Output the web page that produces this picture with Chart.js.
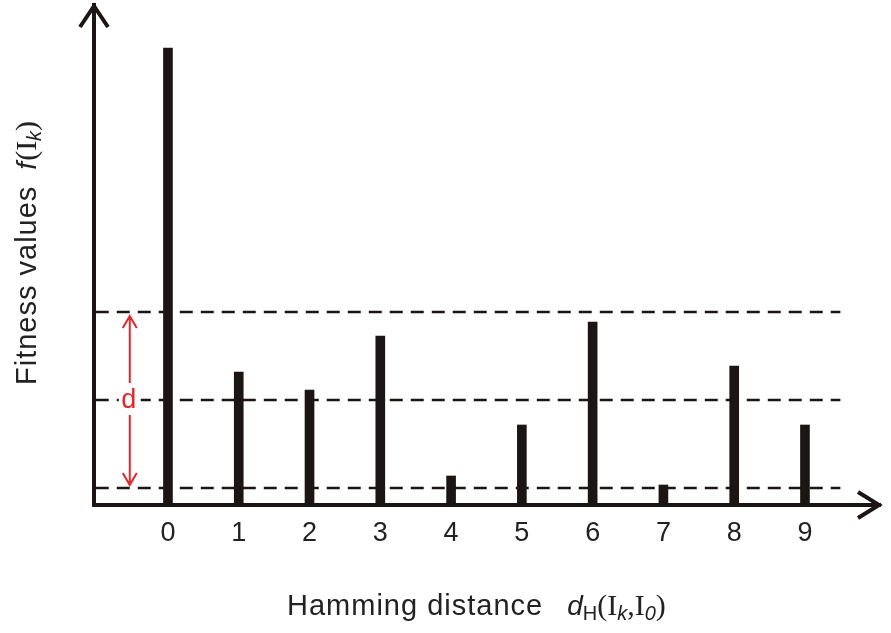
<!DOCTYPE html>
<html>
<head>
<meta charset="utf-8">
<script src="https://cdn.jsdelivr.net/npm/chart.js@4/dist/chart.umd.min.js"></script>
<style>
  html, body { margin: 0; padding: 0; background: #fff; }
  #wrap { width: 891px; height: 633px; }
</style>
</head>
<body>
<div id="wrap"><canvas id="fitChart" width="891" height="633"></canvas></div>
<script>
// Hamming distance of each candidate from I0
const distances = [0, 1, 2, 3, 4, 5, 6, 7, 8, 9];
// fitness values f(Ik)
const fitness = [45.7, 13.3, 11.5, 16.9, 2.9, 8.0, 18.3, 2.0, 13.9, 8.0];
// dashed threshold levels (spacing d)
const thresholds = [1.7, 10.5, 19.3];
const thresholdSpan = [-1.02, 9.5];
// x position of the red "d" arrow
const dArrowX = -0.54;

const INK = '#1b1613';
const RED = '#e3262c';
const sans = '"Liberation Sans", Arial, sans-serif';
const serif = '"Liberation Serif", "Times New Roman", serif';

// draws a run of text pieces with mixed fonts, starting at (x, y)
function drawRich(ctx, parts, x, y) {
  ctx.textAlign = 'left';
  ctx.textBaseline = 'alphabetic';
  parts.forEach(p => {
    ctx.font = p.font;
    ctx.letterSpacing = p.spacing || '0px';
    ctx.fillText(p.text, x, y + (p.dy || 0));
    x += ctx.measureText(p.text).width + (p.gap || 0);
  });
  ctx.letterSpacing = '0px';
}

const decor = {
  id: 'decor',
  afterDraw(chart) {
    const { ctx, chartArea: a, scales: { x, y } } = chart;
    ctx.save();
    ctx.strokeStyle = INK;
    ctx.fillStyle = INK;
    ctx.lineWidth = 4;
    ctx.lineJoin = 'miter';
    ctx.lineCap = 'butt';
    // axis arrow heads
    ctx.beginPath();
    ctx.moveTo(a.left - 14, a.top + 22);
    ctx.lineTo(a.left, a.top + 1);
    ctx.lineTo(a.left + 14, a.top + 22);
    ctx.stroke();
    ctx.beginPath();
    ctx.moveTo(a.right - 22, a.bottom - 13);
    ctx.lineTo(a.right - 1, a.bottom);
    ctx.lineTo(a.right - 22, a.bottom + 13);
    ctx.stroke();

    // red double arrow marking d
    const ax = x.getPixelForValue(dArrowX);
    const yTop = y.getPixelForValue(thresholds[2]) + 4;
    const yBot = y.getPixelForValue(thresholds[0]) - 3;
    const yMid = y.getPixelForValue(thresholds[1]);
    ctx.fillStyle = '#fff';
    ctx.fillRect(ax - 11, yMid - 14, 22, 28);
    ctx.strokeStyle = RED;
    ctx.lineWidth = 2;
    ctx.beginPath();
    ctx.moveTo(ax, yTop); ctx.lineTo(ax, yMid - 17);
    ctx.moveTo(ax, yMid + 15); ctx.lineTo(ax, yBot);
    ctx.moveTo(ax - 7, yTop + 12); ctx.lineTo(ax, yTop); ctx.lineTo(ax + 7, yTop + 12);
    ctx.moveTo(ax - 7, yBot - 12); ctx.lineTo(ax, yBot); ctx.lineTo(ax + 7, yBot - 12);
    ctx.stroke();
    ctx.fillStyle = RED;
    ctx.font = '27px ' + sans;
    ctx.textAlign = 'center';
    ctx.textBaseline = 'middle';
    ctx.fillText('d', ax - 1, yMid + 1);

    // axis titles
    ctx.fillStyle = '#222';
    drawRich(ctx, [
      { text: 'Hamming distance', font: '29px ' + sans, spacing: '1px', gap: 24 },
      { text: 'd', font: 'italic 28px ' + sans },
      { text: 'H', font: '20px ' + sans, dy: 5 },
      { text: '(I', font: '30px ' + serif },
      { text: 'k', font: 'italic 20px ' + sans, dy: 5 },
      { text: ',I', font: '30px ' + serif },
      { text: '0', font: 'italic 20px ' + sans, dy: 5 },
      { text: ')', font: '30px ' + serif }
    ], 287, 615);

    ctx.save();
    ctx.translate(36, 385);
    ctx.rotate(-Math.PI / 2);
    drawRich(ctx, [
      { text: 'Fitness values', font: '29px ' + sans, spacing: '1px', gap: 16 },
      { text: 'f', font: 'italic 28px ' + sans, gap: 1 },
      { text: '(I', font: '30px ' + serif },
      { text: 'k', font: 'italic 20px ' + sans, dy: 5 },
      { text: ')', font: '30px ' + serif }
    ], 0, 0);
    ctx.restore();
    ctx.restore();
  }
};

const datasets = [{
  type: 'bar',
  data: distances.map((d, i) => ({ x: d, y: fitness[i] })),
  backgroundColor: INK,
  barThickness: 9,
  order: 2
}];
thresholds.forEach(t => {
  datasets.push({
    type: 'line',
    data: thresholdSpan.map(v => ({ x: v, y: t })),
    borderColor: INK,
    borderWidth: 2.5,
    borderDash: [13, 8],
    pointRadius: 0,
    order: 1
  });
});

new Chart(document.getElementById('fitChart').getContext('2d'), {
  type: 'bar',
  data: { datasets },
  plugins: [decor],
  options: {
    responsive: false,
    animation: false,
    layout: { padding: { left: 94, top: 5, right: 11, bottom: 0 } },
    plugins: { legend: { display: false }, tooltip: { enabled: false } },
    scales: {
      x: {
        type: 'linear',
        offset: false,
        min: -1.045,
        max: 10.06,
        afterBuildTicks: s => { s.ticks = distances.map(v => ({ value: v })); },
        afterFit: s => { s.height = 128; },
        ticks: { color: '#222', font: { family: sans, size: 27 }, padding: 12, maxRotation: 0, autoSkip: false },
        grid: { display: true, drawOnChartArea: false, drawTicks: false, offset: false },
        border: { color: INK, width: 4 }
      },
      y: {
        min: 0,
        max: 50,
        afterFit: s => { s.width = 0; },
        ticks: { display: false },
        grid: { display: true, drawOnChartArea: false, drawTicks: false },
        border: { color: INK, width: 4 }
      }
    }
  }
});
</script>
</body>
</html>
